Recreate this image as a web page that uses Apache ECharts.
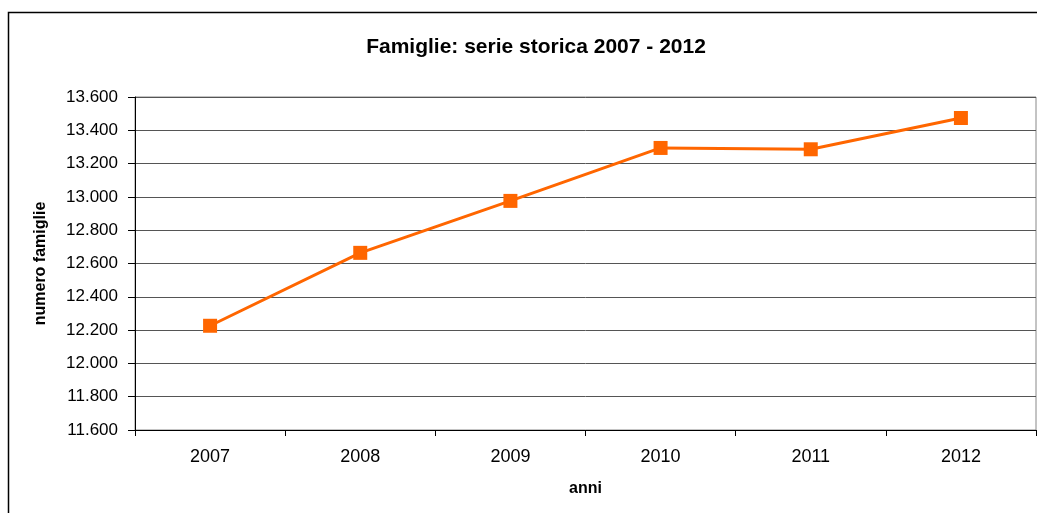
<!DOCTYPE html>
<html><head><meta charset="utf-8">
<script src="https://cdn.jsdelivr.net/npm/echarts@6/dist/echarts.min.js"></script>
<style>html,body{margin:0;padding:0;background:#fff}#c{width:1037px;height:513px}</style>
</head><body><div id="c"></div>
<script>
var categories = ['2007','2008','2009','2010','2011','2012'];
var famiglie = [12226, 12664, 12976, 13294, 13286, 13474];
var yMin = 11600, yMax = 13600, yStep = 200;

var chart = echarts.init(document.getElementById('c'), null, {renderer:'canvas'});
var font = '"Liberation Sans", Arial, sans-serif';
chart.setOption({
  animation: false,
  backgroundColor: '#fff',
  title: {
    text: 'Famiglie: serie storica 2007 - 2012',
    left: 531, top: 32, textAlign: 'center',
    textStyle: {fontFamily: font, fontSize: 21, fontWeight: 'bold', color: '#000'}
  },
  graphic: [{
    type: 'rect', shape: {x: 8.5, y: 12.5, width: 1200, height: 700},
    style: {fill: 'none', stroke: '#000', lineWidth: 1.5}, z: 100
  }],
  grid: {left: 135, right: 1, top: 97, bottom: 83, show: true, borderColor: '#888', borderWidth: 1, backgroundColor: 'transparent'},
  xAxis: {
    type: 'category', data: categories, boundaryGap: true,
    name: 'anni', nameLocation: 'middle', nameGap: 51,
    nameTextStyle: {fontFamily: font, fontSize: 16, fontWeight: 'bold', color: '#000'},
    axisLine: {lineStyle: {color: '#000', width: 1}},
    axisTick: {show: true, length: 6, inside: false, lineStyle: {color: '#000'}},
    axisLabel: {fontFamily: font, fontSize: 18, color: '#000', margin: 18},
    splitLine: {show: false}
  },
  yAxis: {
    type: 'value', min: yMin, max: yMax, interval: yStep,
    name: 'numero famiglie', nameLocation: 'middle', nameGap: 86, nameRotate: 90,
    nameTextStyle: {fontFamily: font, fontSize: 16, fontWeight: 'bold', color: '#000'},
    axisLine: {show: true, lineStyle: {color: '#000', width: 1}},
    axisTick: {show: true, length: 7, lineStyle: {color: '#000'}},
    axisLabel: {
      fontFamily: font, fontSize: 17, color: '#000', margin: 17,
      formatter: function (v) { return v.toString().replace(/\B(?=(\d{3})+(?!\d))/g, '.'); }
    },
    splitLine: {show: true, lineStyle: {color: '#555', width: 1}}
  },
  series: [{
    type: 'line', data: famiglie,
    symbol: 'rect', symbolSize: 14,
    lineStyle: {color: '#FF6600', width: 3},
    itemStyle: {color: '#FF6600'}
  }]
});
</script></body></html>
